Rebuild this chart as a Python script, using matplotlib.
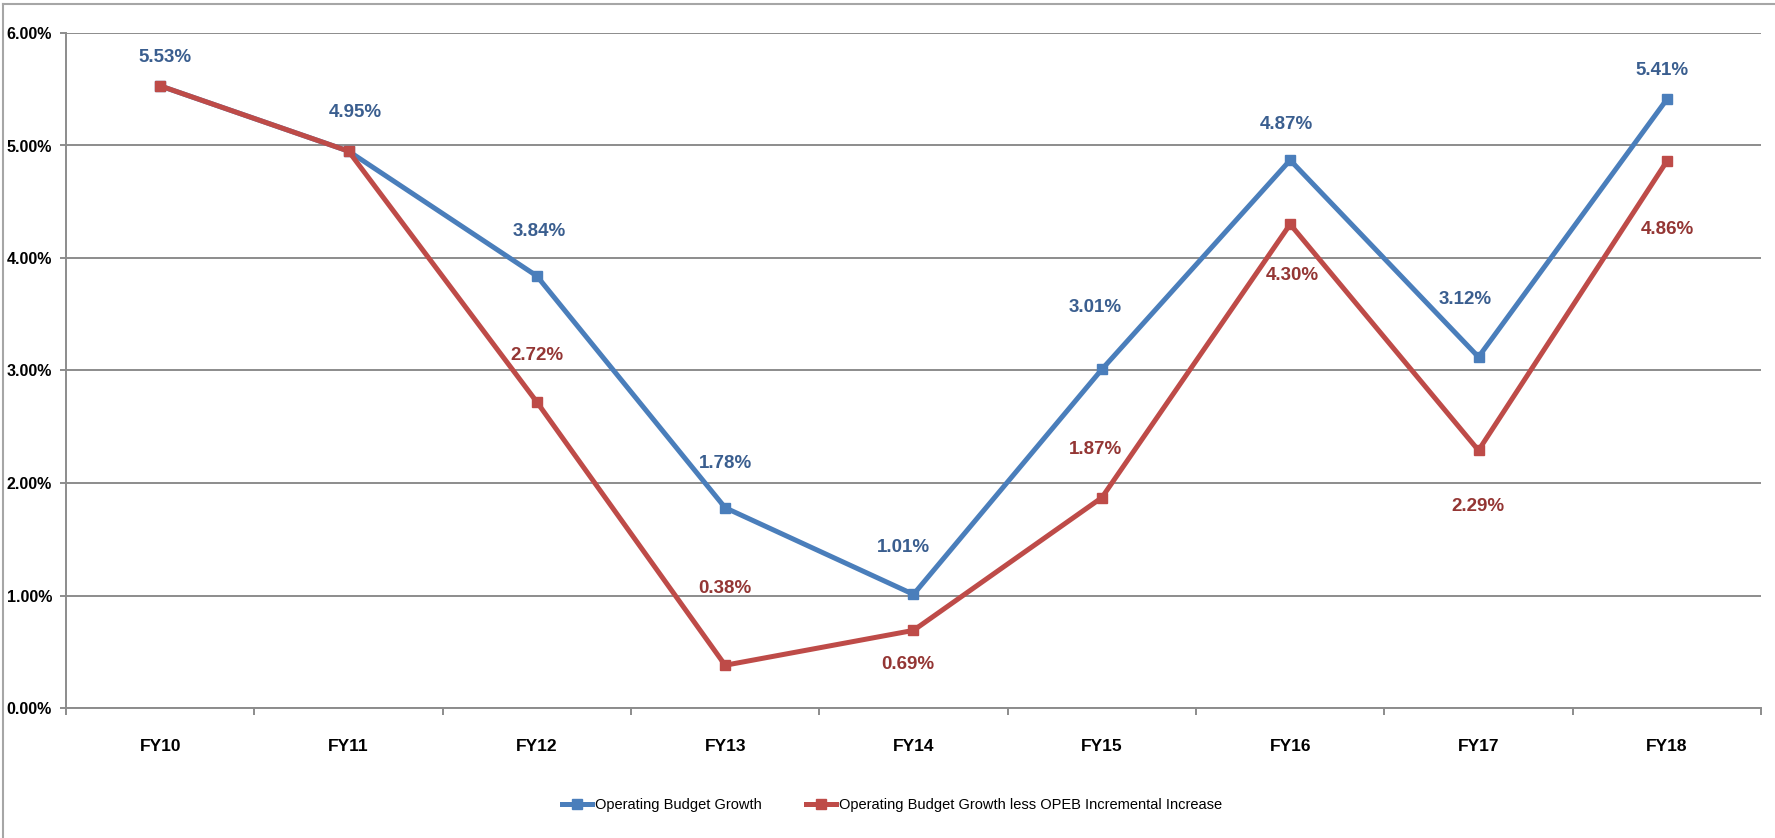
import matplotlib
matplotlib.use("Agg")
import matplotlib.pyplot as plt
from matplotlib.lines import Line2D
from matplotlib.ticker import FixedLocator, FuncFormatter
from matplotlib import font_manager

names = {f.name for f in font_manager.fontManager.ttflist}
if "Liberation Sans Narrow" in names:
    FAMILY, SCALE = "Liberation Sans Narrow", 1.18
else:
    FAMILY, SCALE = "Liberation Sans", 1.0
plt.rcParams['font.family'] = [FAMILY, 'DejaVu Sans']

categories = ["FY10", "FY11", "FY12", "FY13", "FY14", "FY15", "FY16", "FY17", "FY18"]
budget_growth = [5.53, 4.95, 3.84, 1.78, 1.01, 3.01, 4.87, 3.12, 5.41]
budget_less_opeb = [5.53, 4.95, 2.72, 0.38, 0.69, 1.87, 4.30, 2.29, 4.86]
series_names = ["Operating Budget Growth", "Operating Budget Growth less OPEB Incremental Increase"]
y_ticks = [0, 1, 2, 3, 4, 5, 6]

# data-label placement (pixel offsets from the marker; None = label hidden under the other series)
blue_label_offsets = [(5, 28), (7, 39), (2, 44), (0, 44), (-10, 47), (-7, 62), (-4, 36), (-13, 57), (-5, 29)]
red_label_offsets = [None, None, (0, 47), (0, 77), (-6, -34), (-6, 48), (2, -51), (-1, -56), (1, -68)]

BLUE = "#4A7EBB"
RED = "#BE4B48"
BLUE_TXT = "#3A5E8F"
RED_TXT = "#943634"
GRID = "#8C8C8C"

fig = plt.figure(figsize=(17.75, 8.38), dpi=100)
ax = fig.add_axes([66/1775, 1-708/838, (1761-66)/1775, (708-33)/838])

# outer chart border (only left/top visible in the crop)
fig.add_artist(Line2D([3/1775, 3/1775], [0, 1-4/838], transform=fig.transFigure, color="#A6A6A6", lw=1.5))
fig.add_artist(Line2D([3/1775, 1], [1-4/838, 1-4/838], transform=fig.transFigure, color="#A6A6A6", lw=1.5))

x = list(range(len(categories)))
ax.plot(x, budget_growth, color=BLUE, lw=3.6, marker="s", ms=6.5, zorder=3, label=series_names[0])
ax.plot(x, budget_less_opeb, color=RED, lw=3.6, marker="s", ms=6.5, zorder=4, label=series_names[1])

def place(vals, offsets, color):
    for i, (v, o) in enumerate(zip(vals, offsets)):
        if o is None:
            continue
        ax.annotate(f"{v:.2f}%", (i, v), xytext=o, textcoords="offset pixels",
                    ha="center", va="center", fontsize=13.5 * SCALE, fontweight="bold",
                    color=color, zorder=5)

place(budget_less_opeb, red_label_offsets, RED_TXT)
place(budget_growth, blue_label_offsets, BLUE_TXT)

ax.set_xlim(-0.5, len(categories) - 0.5)
ax.set_ylim(0, 6)

ax.yaxis.set_major_locator(FixedLocator(y_ticks))
ax.yaxis.set_major_formatter(FuncFormatter(lambda v, p: f"{v:.2f}%"))
ax.grid(axis="y", color=GRID, lw=1.4, zorder=1)
ax.set_axisbelow(True)

ax.set_xticks(x)
ax.set_xticklabels(categories)
ax.set_xticks([i - 0.5 for i in range(len(categories) + 1)], minor=True)
ax.tick_params(axis="x", which="major", length=0, pad=22, labelsize=12.5 * SCALE)
ax.tick_params(axis="x", which="minor", length=5, width=1.4, color=GRID, direction="out")
ax.tick_params(axis="y", length=4, width=1.4, color=GRID, pad=6, labelsize=11.5 * SCALE)
for lab in ax.get_xticklabels() + ax.get_yticklabels():
    lab.set_fontweight("bold")

for s in ["top", "right"]:
    ax.spines[s].set_visible(False)
for s in ["left", "bottom"]:
    ax.spines[s].set_color(GRID)
    ax.spines[s].set_linewidth(1.4)
ax.spines["bottom"].set_zorder(2)

leg = fig.legend(handles=ax.get_lines(), labels=series_names, loc="center",
                 bbox_to_anchor=(892/1775, 1-805/838), ncol=2, frameon=False,
                 fontsize=10.5 * SCALE, handlelength=2.1, handletextpad=0.2, columnspacing=3.0)

fig.savefig("out.png", dpi=100)
